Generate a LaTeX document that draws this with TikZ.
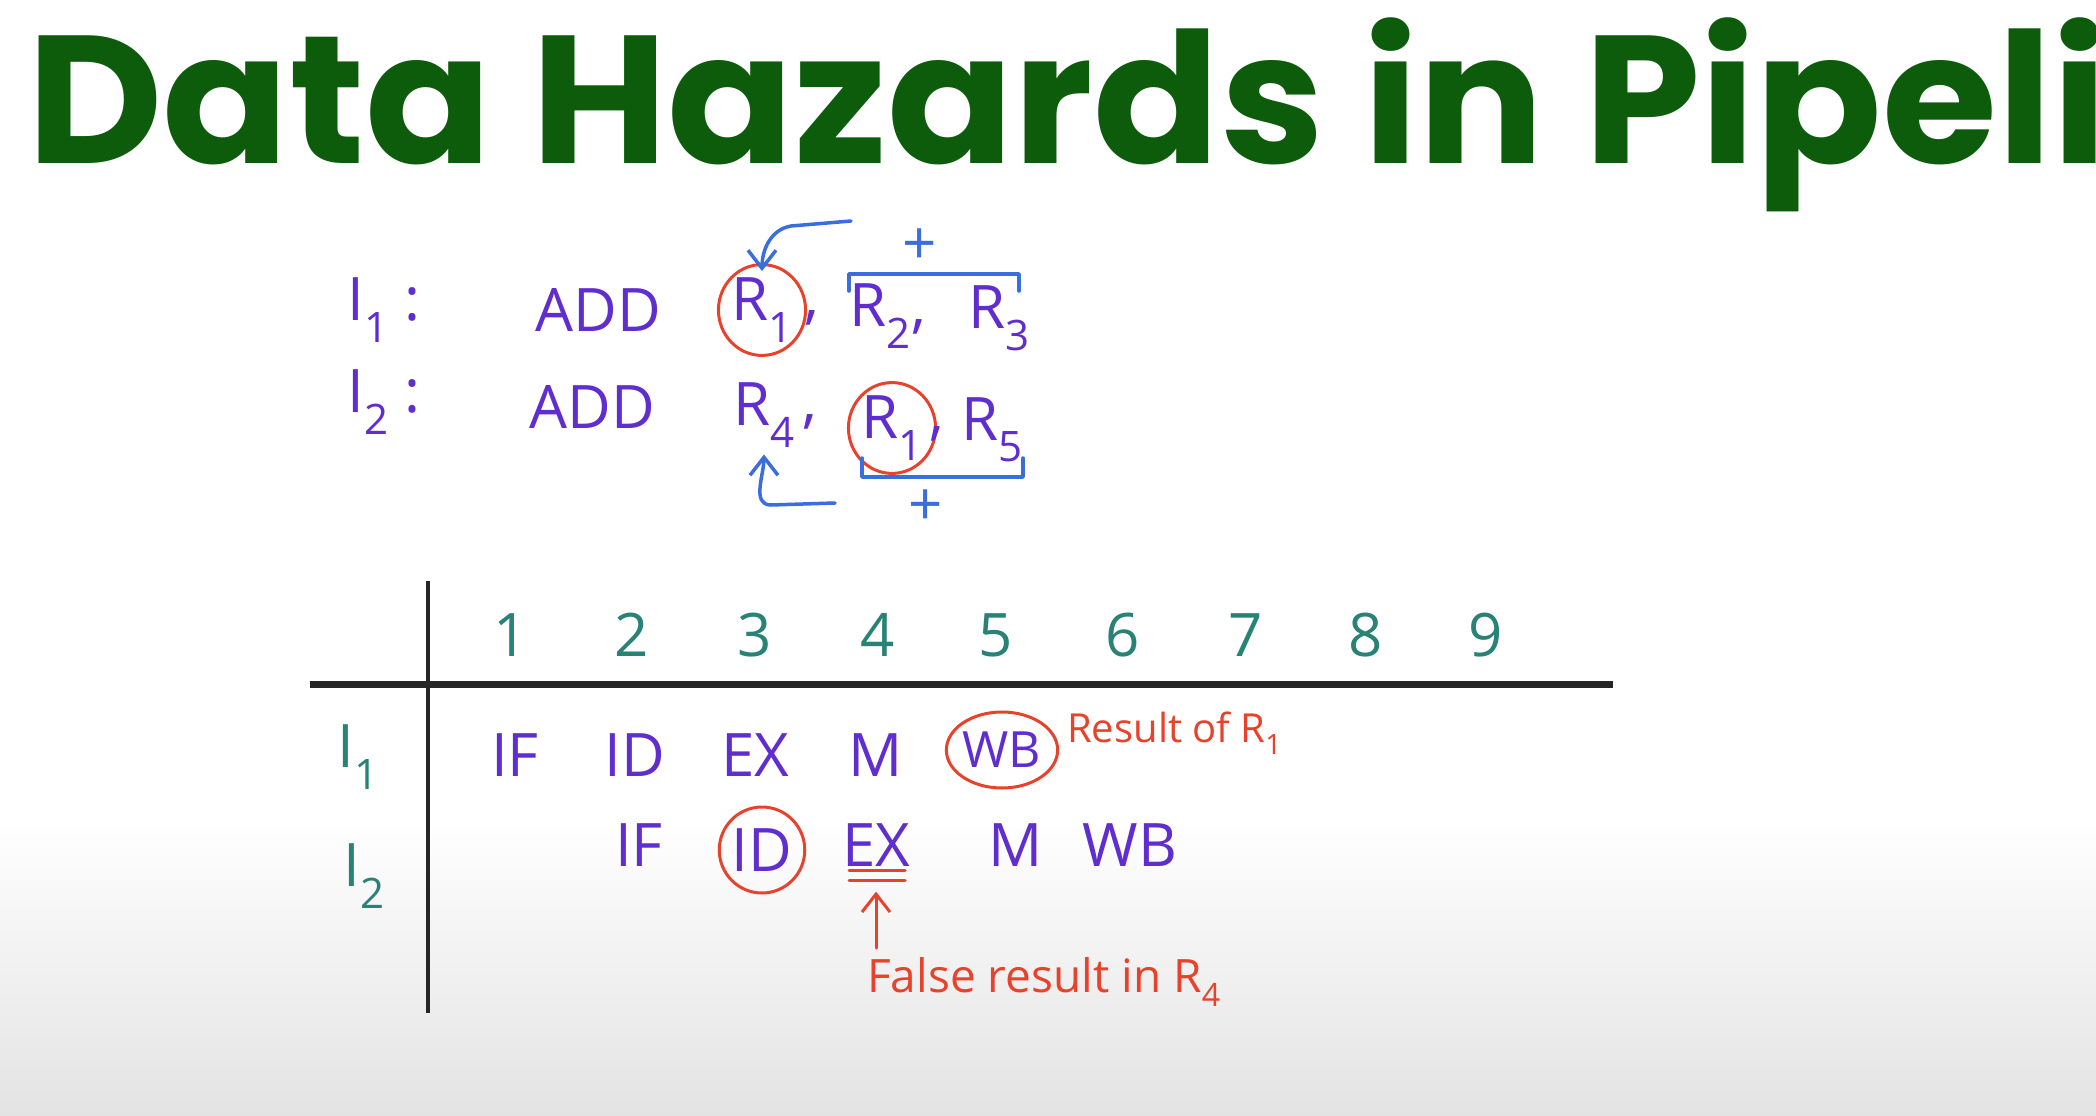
\documentclass[tikz,border=0pt]{standalone}
\usepackage{fontspec}
\usepackage{xcolor}
\usepackage{tikz}
\usetikzlibrary{arrows.meta,shapes.geometric}

\newfontfamily\titlefont{Poppins}
\newfontfamily\handfont{Open Sans}
\definecolor{titlegreen}{RGB}{12,92,12}
\definecolor{inkpurple}{RGB}{96,46,206}
\definecolor{inkteal}{RGB}{40,130,118}
\definecolor{inkred}{RGB}{232,66,44}
\definecolor{inkblue}{RGB}{58,110,222}

\begin{document}
\begin{tikzpicture}[
    x=1pt,y=-1pt,
    >={Straight Barb[length=18pt,width=28pt]},
    every node/.style={inner sep=1pt},
    ink/.style={font=\handfont\fontsize{60}{60}\selectfont,text=inkpurple},
    num/.style={font=\handfont\fontsize{60}{60}\selectfont,text=inkteal},
    note/.style={font=\handfont\fontsize{40}{40}\selectfont,text=inkred},
    ring/.style={ellipse,draw=inkred,line width=3pt,inner sep=0pt},
    pen/.style={line width=3.5pt,line cap=round,line join=round},
    grid/.style={line width=#1,black!85},
  ]
  \useasboundingbox (0,0) rectangle (2096,1116);
  \clip (0,0) rectangle (2096,1116);
  \fill[white] (0,0) rectangle (2096,1116);
  \shade[top color=white,bottom color=black!11] (0,820) rectangle (2096,1116);

  % -- heading, cut at the right edge --
  \node[anchor=base west,inner sep=0pt,text depth=0pt,text=titlegreen,
        font=\titlefont\bfseries\fontsize{182}{182}\selectfont] (title) at (27,163)
       {\scalebox{1.025}[1]{Data Hazards in Pipeline}};

  % -- the two instructions --
  \node[ink] (lbl1) at (384,310) {I\textsubscript{1} :};
  \node[ink] (add1) at (598,310) {ADD};
  \node[ink,ring,minimum width=74pt,minimum height=68pt] (dst1) at (762,310) {R\textsubscript{1}};
  \node[ink] (cm1)  at (812,318) {,};
  \node[ink] (src2) at (888,316) {R\textsubscript{2},};
  \node[ink] (src3) at (999,318) {R\textsubscript{3}};

  \node[ink] (lbl2) at (384,402) {I\textsubscript{2} :};
  \node[ink] (add2) at (592,407) {ADD};
  \node[ink] (dst2) at (764,415) {R\textsubscript{4}};
  \node[ink] (cm2)  at (810,422) {,};
  \node[ink,ring,minimum width=66pt,minimum height=60pt] (src1) at (892,428) {R\textsubscript{1}};
  \node[ink] (cm3)  at (937,434) {,};
  \node[ink] (src5) at (992,430) {R\textsubscript{5}};

  % -- blue marks: sum goes into the target --
  \coordinate (hk1) at (851,221);
  \coordinate (hk2) at (835,503);
  \draw[pen,inkblue,->] (hk1) -- ++(-60,5) to[out=190,in=90] ([yshift=-8pt]dst1.north);
  \draw[pen,inkblue,->] (hk2) -- ++(-64,2) to[out=180,in=270] ([yshift=-6pt]dst2.south);
  \draw[pen,inkblue] (849,291) -- (849,274) -- (1019,274) -- (1019,291);
  \draw[pen,inkblue] (862,458) -- (862,477) -- (1023,477) -- (1023,458);
  \node[ink,text=inkblue] (plus1) at (920,247) {+};
  \node[ink,text=inkblue] (plus2) at (926,508) {+};

  % -- the pipeline table --
  \draw[grid=4pt] (428,581) -- (428,1013);
  \draw[grid=7pt] (310,684) -- (1613,684);
  \foreach \n/\x in {1/511,2/632,3/755,4/878,5/996,6/1123,7/1246,8/1366,9/1486}
    \node[num] (cyc\n) at (\x,635) {\n};
  \node[num] (row1) at (358,757) {I\textsubscript{1}};
  \node[num] (row2) at (364,876) {I\textsubscript{2}};

  \foreach \s/\x in {IF/515,ID/635,EX/755,M/876}
    \node[ink] (a\s) at (\x,755) {\s};
  \node[ink,ring,font=\handfont\fontsize{50}{50}\selectfont,
        minimum width=84pt,minimum height=76pt] (aWB) at (1002,750) {WB};
  \node[note,anchor=west] (res1) at (1066,733) {Result of R\textsubscript{1}};

  \node[ink] (bIF) at (639,845) {IF};
  \node[ink,ring,minimum width=80pt,minimum height=86pt] (bID) at (762,850) {ID};
  \node[ink] (bEX) at (876,845) {EX};
  \node[ink] (bM)  at (1016,845) {M};
  \node[ink] (bWB) at (1130,845) {WB};

  % -- where the stale value is used --
  \foreach \d in {-3,-13}
    \draw[pen,inkred,line width=3pt] ([xshift=-27pt,yshift=\d pt]bEX.south)
      -- ([xshift=29pt,yshift=\d pt]bEX.south);
  \node[note,font=\handfont\fontsize{46}{46}\selectfont,anchor=west] (res2) at (866,982)
       {False result in R\textsubscript{4}};
  \draw[pen,inkred,line width=3pt,->,shorten <=8pt] ([xshift=10pt]res2.north west)
    -- ([yshift=-24pt]bEX.south);
\end{tikzpicture}
\end{document}
